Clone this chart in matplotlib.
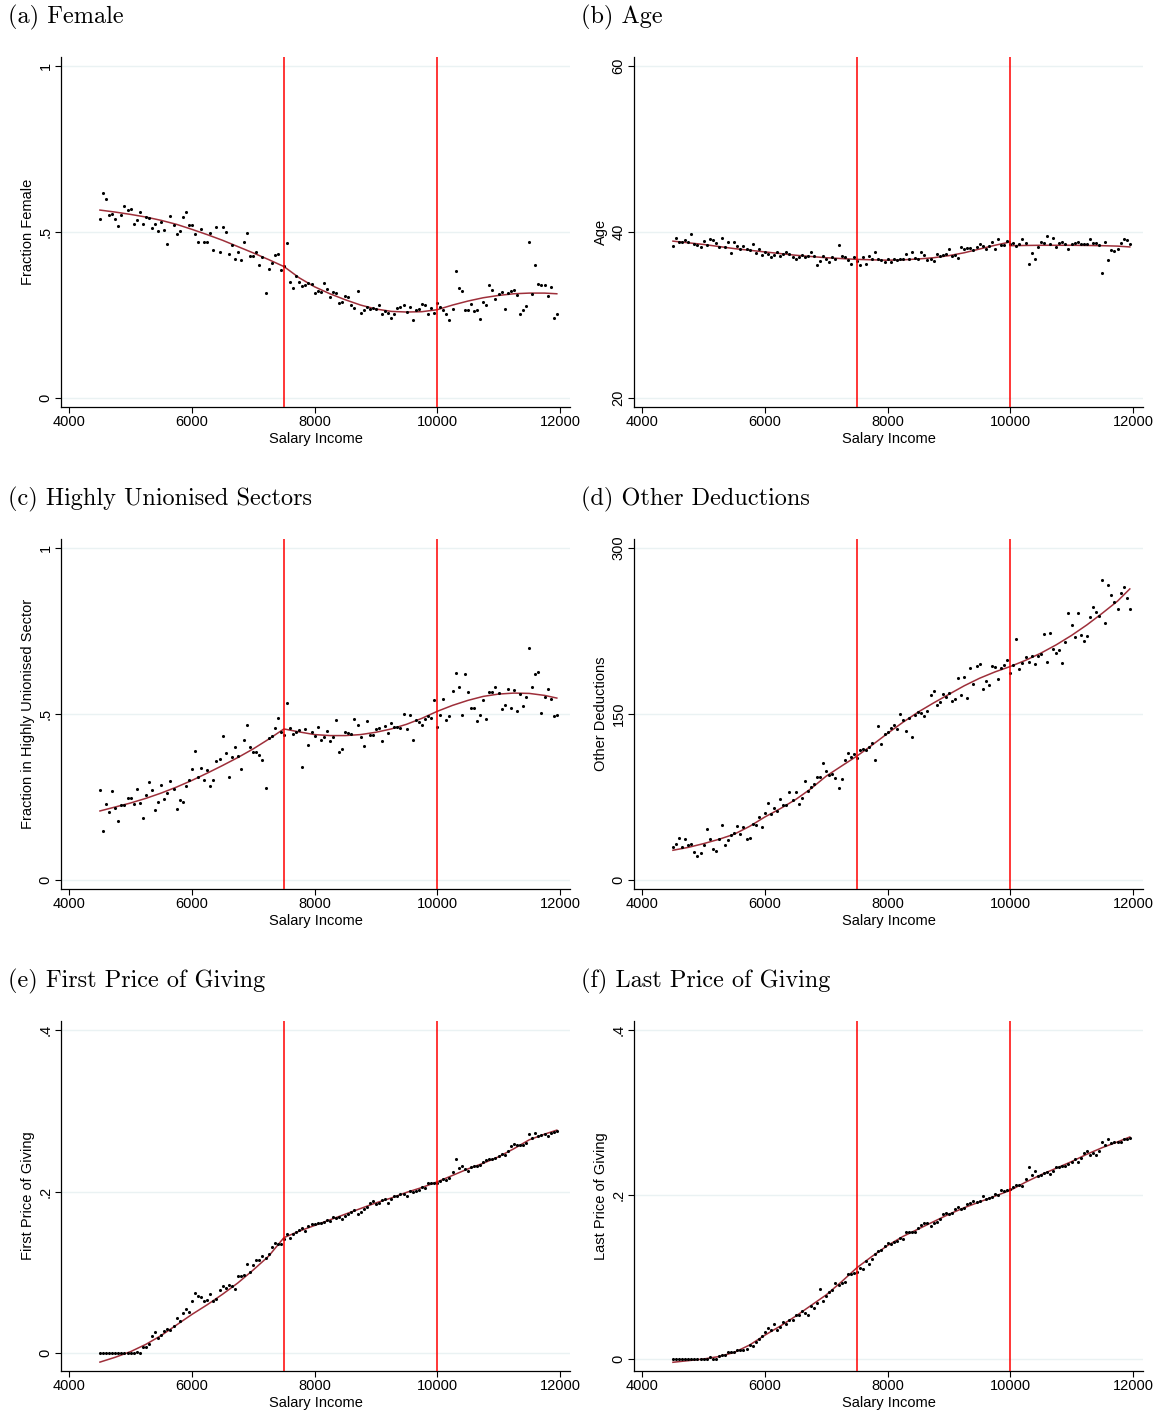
import numpy as np
import matplotlib
matplotlib.use("Agg")
import matplotlib.pyplot as plt

plt.rcParams['font.family'] = ['Liberation Sans', 'DejaVu Sans']

# bins of salary income (one dot per 50 SEK bin)
salary_bins = np.arange(4500, 12000, 50)

fit_x = [4500, 4750, 5000, 5250, 5500, 5750, 6000, 6250, 6500, 6750, 7000,
         7250, 7500, 7750, 8000, 8250, 8500, 8750, 9000, 9250, 9500, 9750,
         10000, 10250, 10500, 10750, 11000, 11250, 11500, 11750, 11950]

female = [0.539, 0.617, 0.598, 0.550, 0.553, 0.540, 0.518, 0.551, 0.579, 0.565,
          0.570, 0.524, 0.535, 0.560, 0.524, 0.545, 0.542, 0.511, 0.525, 0.504,
          0.530, 0.507, 0.464, 0.549, 0.522, 0.494, 0.504, 0.544, 0.559, 0.521,
          0.520, 0.495, 0.471, 0.509, 0.471, 0.471, 0.498, 0.447, 0.515, 0.440,
          0.514, 0.499, 0.433, 0.460, 0.418, 0.441, 0.417, 0.471, 0.496, 0.428,
          0.428, 0.440, 0.402, 0.425, 0.317, 0.389, 0.408, 0.432, 0.435, 0.387,
          0.399, 0.467, 0.348, 0.332, 0.368, 0.348, 0.338, 0.339, 0.345, 0.343,
          0.316, 0.322, 0.320, 0.345, 0.329, 0.305, 0.318, 0.315, 0.286, 0.288,
          0.307, 0.305, 0.279, 0.272, 0.321, 0.256, 0.266, 0.275, 0.269, 0.270,
          0.267, 0.281, 0.254, 0.261, 0.255, 0.240, 0.254, 0.271, 0.275, 0.280,
          0.258, 0.274, 0.235, 0.266, 0.267, 0.282, 0.280, 0.252, 0.272, 0.255,
          0.287, 0.275, 0.264, 0.252, 0.235, 0.268, 0.384, 0.330, 0.322, 0.265,
          0.265, 0.283, 0.262, 0.266, 0.237, 0.289, 0.281, 0.339, 0.324, 0.297,
          0.313, 0.319, 0.267, 0.315, 0.323, 0.324, 0.310, 0.254, 0.264, 0.278,
          0.469, 0.312, 0.401, 0.344, 0.341, 0.339, 0.306, 0.334, 0.242, 0.252]
female_fit = [0.566, 0.560, 0.553, 0.545, 0.535, 0.523, 0.508, 0.492, 0.475, 0.456, 0.437,
              0.417, 0.396, 0.362, 0.335, 0.314, 0.296, 0.280, 0.268, 0.261, 0.259, 0.260,
              0.266, 0.280, 0.292, 0.302, 0.309, 0.314, 0.316, 0.316, 0.314]

age = [38.35, 39.3, 38.75, 38.75, 39.0, 38.8, 39.75, 38.5, 38.4, 38.2,
       38.95, 38.4, 39.1, 39.0, 38.7, 38.2, 39.3, 38.15, 38.8, 37.5,
       38.8, 38.3, 38.0, 38.3, 37.95, 37.8, 38.55, 37.5, 37.95, 37.2,
       37.6, 37.4, 37.0, 37.2, 37.6, 37.1, 37.4, 37.6, 37.4, 37.0,
       36.7, 36.95, 37.2, 37.0, 37.05, 37.6, 37.05, 36.0, 36.55, 37.15,
       36.75, 36.4, 37.0, 36.8, 38.4, 37.05, 37.0, 36.6, 36.1, 37.0,
       36.45, 36.05, 37.0, 36.2, 37.05, 36.8, 37.6, 36.8, 36.6, 36.35,
       36.7, 36.35, 36.8, 36.6, 36.7, 36.75, 37.35, 36.75, 37.6, 36.85,
       36.8, 37.65, 37.2, 36.6, 36.8, 36.5, 37.4, 37.1, 37.2, 37.35,
       38.0, 37.1, 37.2, 36.9, 38.2, 37.9, 38.05, 38.05, 37.8, 38.15,
       38.6, 38.3, 38.0, 38.35, 38.8, 38.0, 39.1, 38.4, 38.4, 38.95,
       38.5, 38.65, 38.3, 38.5, 39.1, 38.65, 36.2, 37.5, 36.8, 38.15,
       38.8, 38.65, 39.5, 38.5, 39.3, 38.2, 38.7, 38.8, 38.5, 38.0,
       38.6, 38.65, 38.8, 38.55, 38.5, 38.55, 39.1, 38.65, 38.7, 38.45,
       35.05, 38.8, 36.6, 37.8, 37.7, 38.0, 38.7, 39.1, 39.05, 38.55]
# age fit breaks at 10000
age_fit_left = [38.9, 38.7, 38.5, 38.25, 38.0, 37.8, 37.6, 37.4, 37.2, 37.05, 36.9,
                36.8, 36.7, 36.65, 36.6, 36.65, 36.75, 36.9, 37.15, 37.5, 37.95, 38.4,
                38.8]
age_fit_right = [38.35, 38.38, 38.4, 38.4, 38.4, 38.38, 38.35, 38.3, 38.2]

union = [0.272, 0.147, 0.229, 0.206, 0.267, 0.216, 0.179, 0.227, 0.227, 0.247,
         0.247, 0.230, 0.274, 0.232, 0.186, 0.256, 0.295, 0.270, 0.212, 0.235,
         0.287, 0.245, 0.262, 0.298, 0.274, 0.213, 0.241, 0.236, 0.284, 0.300,
         0.335, 0.388, 0.311, 0.337, 0.300, 0.330, 0.283, 0.302, 0.359, 0.363,
         0.434, 0.384, 0.310, 0.372, 0.402, 0.375, 0.335, 0.421, 0.466, 0.400,
         0.385, 0.385, 0.378, 0.361, 0.276, 0.428, 0.434, 0.458, 0.487, 0.446,
         0.438, 0.534, 0.459, 0.439, 0.445, 0.453, 0.340, 0.456, 0.407, 0.445,
         0.435, 0.462, 0.423, 0.431, 0.449, 0.418, 0.430, 0.481, 0.385, 0.394,
         0.447, 0.444, 0.440, 0.484, 0.466, 0.431, 0.403, 0.479, 0.438, 0.437,
         0.454, 0.458, 0.418, 0.464, 0.443, 0.474, 0.461, 0.462, 0.457, 0.499,
         0.454, 0.497, 0.421, 0.482, 0.477, 0.467, 0.485, 0.493, 0.488, 0.541,
         0.460, 0.497, 0.545, 0.481, 0.494, 0.568, 0.622, 0.580, 0.497, 0.620,
         0.567, 0.519, 0.517, 0.479, 0.497, 0.541, 0.484, 0.567, 0.566, 0.582,
         0.562, 0.514, 0.526, 0.574, 0.517, 0.572, 0.510, 0.560, 0.524, 0.550,
         0.698, 0.581, 0.619, 0.625, 0.502, 0.550, 0.574, 0.545, 0.493, 0.497]
union_fit = [0.208, 0.220, 0.232, 0.246, 0.262, 0.280, 0.300, 0.322, 0.345, 0.369, 0.395,
             0.424, 0.455, 0.446, 0.438, 0.435, 0.435, 0.438, 0.445, 0.455, 0.469, 0.487,
             0.508, 0.526, 0.541, 0.553, 0.560, 0.563, 0.562, 0.556, 0.548]

deductions = [29.9, 32.6, 38.0, 29.6, 37.1, 32.0, 32.3, 25.1, 22.0, 24.4,
              31.7, 46.2, 37.4, 28.4, 26.3, 37.4, 50.1, 31.7, 36.2, 40.7,
              42.9, 49.2, 41.4, 48.0, 37.4, 38.0, 50.7, 50.1, 56.7, 48.0,
              60.4, 70.0, 59.5, 65.5, 62.8, 73.3, 67.9, 68.2, 79.7, 72.7,
              79.1, 69.1, 74.3, 89.3, 80.0, 84.2, 86.6, 93.0, 93.0, 105.9,
              98.7, 94.8, 95.7, 91.8, 83.0, 90.9, 108.1, 115.0, 111.4, 114.1,
              110.5, 117.4, 118.6, 117.1, 119.8, 123.5, 108.7, 139.5, 122.5, 131.6,
              133.7, 137.6, 140.1, 136.4, 149.7, 144.3, 134.3, 146.1, 129.5, 148.8,
              151.8, 151.2, 147.9, 152.4, 167.2, 171.1, 158.5, 160.9, 168.4, 165.4,
              168.7, 161.8, 163.9, 182.6, 166.9, 183.5, 164.5, 192.0, 177.2, 193.2,
              195.3, 172.7, 179.9, 176.0, 193.5, 192.6, 181.4, 192.0, 194.1, 199.2,
              187.1, 194.1, 217.6, 190.8, 195.9, 201.6, 197.1, 202.5, 195.6, 202.5,
              204.3, 222.5, 197.4, 223.4, 208.3, 205.3, 207.4, 196.5, 214.9, 241.2,
              230.6, 219.7, 241.2, 221.2, 215.5, 220.3, 237.9, 246.9, 242.4, 238.5,
              270.8, 232.1, 266.5, 257.8, 251.1, 245.1, 259.6, 264.7, 254.5, 245.1]
deductions_fit = [26.9, 29.5, 32.9, 36.8, 41.4, 48.5, 57.0, 64.5, 72.7, 82.5, 93.9,
                  103.0, 112.0, 122.0, 132.5, 142.5, 151.8, 160.0, 167.8, 175.5, 182.3, 188.0,
                  192.9, 198.5, 205.0, 212.5, 221.0, 230.5, 241.0, 252.0, 263.0]

first_price = [0, 0, 0, 0, 0, 0, 0, 0, 0, 0,
               0, 0, 0.0016, 0, 0.0074, 0.0074, 0.0115, 0.021, 0.026, 0.019,
               0.023, 0.028, 0.030, 0.029, 0.034, 0.043, 0.040, 0.050, 0.055, 0.051,
               0.065, 0.074, 0.071, 0.070, 0.064, 0.066, 0.073, 0.064, 0.067, 0.078,
               0.083, 0.081, 0.085, 0.083, 0.080, 0.096, 0.096, 0.097, 0.110, 0.101,
               0.109, 0.115, 0.115, 0.120, 0.118, 0.123, 0.131, 0.136, 0.135, 0.135,
               0.141, 0.148, 0.142, 0.148, 0.150, 0.152, 0.155, 0.151, 0.158, 0.160,
               0.160, 0.161, 0.161, 0.162, 0.165, 0.164, 0.168, 0.167, 0.168, 0.166,
               0.170, 0.172, 0.175, 0.177, 0.172, 0.175, 0.179, 0.181, 0.186, 0.188,
               0.185, 0.186, 0.189, 0.191, 0.186, 0.191, 0.194, 0.194, 0.197, 0.197,
               0.195, 0.201, 0.199, 0.201, 0.202, 0.206, 0.204, 0.210, 0.210, 0.210,
               0.210, 0.213, 0.216, 0.214, 0.217, 0.224, 0.240, 0.229, 0.232, 0.228,
               0.226, 0.230, 0.231, 0.231, 0.233, 0.237, 0.239, 0.240, 0.240, 0.242,
               0.244, 0.247, 0.245, 0.250, 0.256, 0.259, 0.257, 0.257, 0.257, 0.260,
               0.271, 0.266, 0.272, 0.269, 0.270, 0.271, 0.269, 0.273, 0.274, 0.275]
first_price_fit = [-0.011, -0.005, 0.002, 0.011, 0.022, 0.035, 0.048, 0.060, 0.073, 0.087, 0.103,
                   0.120, 0.143, 0.151, 0.158, 0.165, 0.172, 0.179, 0.186, 0.192, 0.199, 0.205,
                   0.212, 0.220, 0.228, 0.235, 0.243, 0.253, 0.264, 0.271, 0.276]

last_price = [0, 0, 0, 0, 0, 0, 0, 0, 0, 0,
              0, 0, 0.002, 0, 0, 0.004, 0.0045, 0.0045, 0.008, 0.008,
              0.008, 0.011, 0.011, 0.011, 0.012, 0.017, 0.016, 0.021, 0.024, 0.028,
              0.033, 0.038, 0.035, 0.043, 0.035, 0.039, 0.045, 0.043, 0.047, 0.047,
              0.053, 0.054, 0.058, 0.056, 0.054, 0.064, 0.062, 0.068, 0.085, 0.071,
              0.076, 0.081, 0.084, 0.092, 0.090, 0.092, 0.094, 0.103, 0.103, 0.104,
              0.106, 0.111, 0.110, 0.119, 0.116, 0.122, 0.128, 0.131, 0.133, 0.137,
              0.141, 0.140, 0.142, 0.143, 0.147, 0.146, 0.154, 0.154, 0.154, 0.154,
              0.159, 0.163, 0.165, 0.165, 0.162, 0.165, 0.167, 0.170, 0.176, 0.177,
              0.176, 0.178, 0.182, 0.185, 0.182, 0.184, 0.188, 0.190, 0.192, 0.191,
              0.192, 0.198, 0.194, 0.196, 0.197, 0.201, 0.199, 0.205, 0.204, 0.206,
              0.207, 0.209, 0.212, 0.211, 0.210, 0.219, 0.234, 0.224, 0.229, 0.223,
              0.224, 0.226, 0.227, 0.225, 0.229, 0.234, 0.234, 0.235, 0.235, 0.237,
              0.240, 0.243, 0.239, 0.244, 0.250, 0.253, 0.248, 0.251, 0.248, 0.253,
              0.264, 0.260, 0.268, 0.263, 0.264, 0.264, 0.264, 0.267, 0.268, 0.269]
last_price_fit = [-0.004, -0.002, 0.000, 0.003, 0.008, 0.017, 0.029, 0.040, 0.052, 0.065, 0.078,
                  0.094, 0.111, 0.125, 0.138, 0.149, 0.158, 0.167, 0.176, 0.184, 0.191, 0.198,
                  0.205, 0.215, 0.224, 0.232, 0.240, 0.249, 0.257, 0.264, 0.270]

W, H = 1159, 1414
fig = plt.figure(figsize=(W / 100, H / 100), dpi=100)

fit_color = '#9E2F3A'
grid_color = '#EAF2F3'


def panel(left, top, title, ylabel, values, fits, ylim, yticks, yticklabels):
    # axes box given in pixels (left, top), all boxes are 509 x 350 px
    ax = fig.add_axes([left / W, 1 - (top + 350) / H, 509 / W, 350 / H])
    fig.text((left - 53) / W, 1 - (top - 40) / H, title, family='cmr10',
             fontsize=17.5, va='center', ha='left')

    for yt in yticks:
        ax.axhline(yt, color=grid_color, lw=1.0, zorder=0)

    for fx, fy in fits:
        ax.plot(fx, fy, color=fit_color, lw=1.1, zorder=2)
    ax.scatter(salary_bins[:len(values)], values, s=5, color='black', linewidths=0, zorder=3)

    ax.axvline(7500, color='red', lw=1.1, zorder=4)
    ax.axvline(10000, color='red', lw=1.1, zorder=4)

    ax.set_xlim(3865, 12165)
    ax.set_ylim(*ylim)
    ax.set_xticks([4000, 6000, 8000, 10000, 12000])
    ax.set_yticks(yticks)
    ax.set_yticklabels(yticklabels)

    for side in ['top', 'right']:
        ax.spines[side].set_visible(False)
    ax.spines['left'].set_linewidth(0.9)
    ax.spines['bottom'].set_linewidth(0.9)

    ax.tick_params(axis='both', direction='out', length=4, width=0.8, labelsize=10.5, pad=2)
    ax.tick_params(axis='y', labelrotation=90)
    for lbl in ax.get_yticklabels():
        lbl.set_va('center')

    ax.set_xlabel('Salary Income', fontsize=10.5)
    ax.xaxis.set_label_coords(0.5, -0.072)
    ax.set_ylabel(ylabel, fontsize=10.5)
    ax.yaxis.set_label_coords(-0.051, 0.5)
    return ax


panel(61, 57, '(a) Female', 'Fraction Female', female,
      [(fit_x, female_fit)], (-0.027, 1.027), [0, 0.5, 1], ['0', '.5', '1'])
panel(634, 57, '(b) Age', 'Age', age,
      [(fit_x[:23], age_fit_left), (fit_x[22:], age_fit_right)],
      (18.92, 61.08), [20, 40, 60], ['20', '40', '60'])
panel(61, 539, '(c) Highly Unionised Sectors', 'Fraction in Highly Unionised Sector', union,
      [(fit_x, union_fit)], (-0.027, 1.027), [0, 0.5, 1], ['0', '.5', '1'])
panel(634, 539, '(d) Other Deductions', 'Other Deductions', deductions,
      [(fit_x, deductions_fit)], (-8.1, 308.1), [0, 150, 300], ['0', '150', '300'])
panel(61, 1021, '(e) First Price of Giving', 'First Price of Giving', first_price,
      [(fit_x, first_price_fit)], (-0.022, 0.411), [0, 0.2, 0.4], ['0', '.2', '.4'])
panel(634, 1021, '(f) Last Price of Giving', 'Last Price of Giving', last_price,
      [(fit_x, last_price_fit)], (-0.0146, 0.411), [0, 0.2, 0.4], ['0', '.2', '.4'])

fig.savefig('out.png', dpi=100)
